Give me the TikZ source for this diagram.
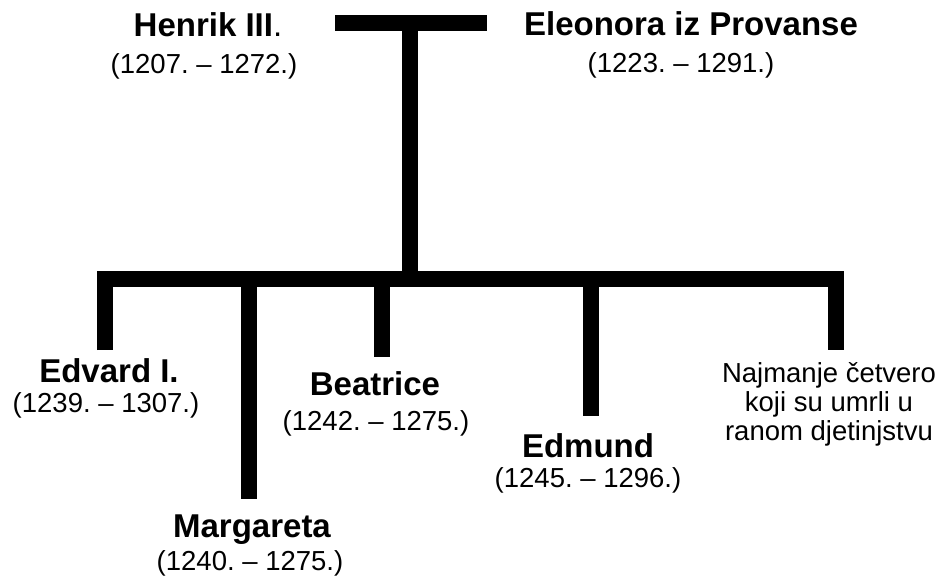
\documentclass[tikz,border=0pt]{standalone}
\usepackage{fontspec}
\setmainfont{Liberation Sans}
\frenchspacing
\begin{document}
\begin{tikzpicture}[x=1pt, y=-1pt,
    bar/.style={line width=16pt, line join=miter},
    person/.style={font=\bfseries\fontsize{33}{36}\selectfont, anchor=base, inner sep=0pt},
    lifespan/.style={font=\fontsize{27.5}{29}\selectfont, anchor=base, inner sep=0pt}]
  \useasboundingbox (0,0) rectangle (946,582);
  % parents
  \node[person] (henrik) at (208,36) {Henrik III\textmd{.}};
  \node[lifespan] (henrik-y) at (204,73) {(1207. \textendash{} 1272.)};
  \node[person] (eleonora) at (691,35) {Eleonora iz Provanse};
  \node[lifespan] (eleonora-y) at (681,72) {(1223. \textendash{} 1291.)};
  % children
  \node[person] (edvard) at (109,382) {Edvard I.};
  \node[lifespan] (edvard-y) at (106,412) {(1239. \textendash{} 1307.)};
  \node[person] (margareta) at (252,537) {Margareta};
  \node[lifespan] (margareta-y) at (250,570) {(1240. \textendash{} 1275.)};
  \node[person] (beatrice) at (375,395) {Beatrice};
  \node[lifespan] (beatrice-y) at (376,430) {(1242. \textendash{} 1275.)};
  \node[person] (edmund) at (588,457) {Edmund};
  \node[lifespan] (edmund-y) at (588,487) {(1245. \textendash{} 1296.)};
  \node[lifespan, align=center] (others) at (829,440)
    {Najmanje četvero\\koji su umrli u\\ranom djetinjstvu};
  % marriage and descent
  \coordinate (wed-l) at (335,23);
  \coordinate (wed-r) at (487,23);
  \coordinate (wed) at (410,23);
  \coordinate (kids) at (410,279);
  \coordinate (edvard-leg) at (104.5,350);
  \coordinate (margareta-leg) at (249,499);
  \coordinate (beatrice-leg) at (381.5,357);
  \coordinate (edmund-leg) at (591,416);
  \coordinate (others-leg) at (835.5,350);
  \draw[bar] (wed-l) -- (wed-r);
  \draw[bar] (wed) -- (kids);
  \draw[bar] (edvard-leg) |- (kids) -| (others-leg);
  \foreach \kid in {margareta, beatrice, edmund}
    \draw[bar] (\kid-leg |- kids) -- (\kid-leg);
\end{tikzpicture}
\end{document}
